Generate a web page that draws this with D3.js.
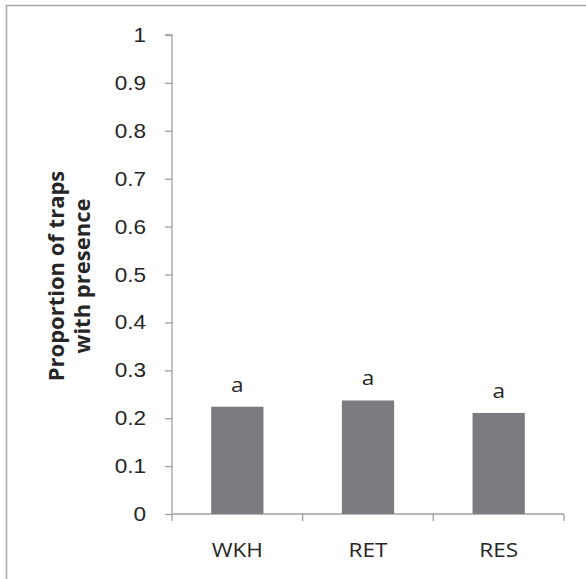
<!DOCTYPE html>
<html>
<head>
<meta charset="utf-8">
<script src="https://cdn.jsdelivr.net/npm/d3@7"></script>
<style>
    body { margin: 0; background: #fff; }
    svg { display: block; font-family: "Open Sans", sans-serif; }
</style>
</head>
<body>
<svg width="586" height="579"></svg>
<script>
    // data
    let sites = ["WKH", "RET", "RES"];
    let proportions = [0.224, 0.237, 0.211];
    let letters = ["a", "a", "a"];
    let yTicks = [0, 0.1, 0.2, 0.3, 0.4, 0.5, 0.6, 0.7, 0.8, 0.9, 1];

    let svg = d3.select("svg");
    let stretch = 1.1; // the source figure's text is a bit wider than the font
    let fs = 20.5;

    // outer frame (top and left edges only show in the source)
    svg.append("path")
        .attr("d", "M6.5,600 V5.5 H600")
        .attr("fill", "none")
        .attr("stroke", "#a6a6a6")
        .attr("stroke-width", 1.5);

    let x = d3.scaleBand()
        .domain(sites)
        .range([172, 564]);

    let y = d3.scaleLinear()
        .domain([0, 1])
        .range([514, 35]);

    // y axis
    let yAxis = svg.append("g")
        .attr("transform", "translate(172,0)")
        .call(d3.axisLeft(y).tickValues(yTicks).tickSize(7).tickPadding(19)
            .tickFormat(d => d3.format("")(+d.toFixed(1))));

    yAxis.selectAll("text")
        .attr("font-size", fs)
        .attr("fill", "#262626")
        .attr("x", -26 / stretch)
        .attr("transform", `scale(${stretch},1)`);

    // x axis: ticks between categories, like Excel
    let xAxis = svg.append("g")
        .attr("transform", "translate(0,514)");

    xAxis.append("line")
        .attr("x1", 172).attr("x2", 564)
        .attr("stroke", "#a0a0a0").attr("stroke-width", 1.3);

    let edges = sites.map(s => x(s)).concat([x.range()[1]]);
    xAxis.selectAll(".edge")
        .data(edges)
        .enter()
        .append("line")
        .attr("class", "edge")
        .attr("x1", d => d).attr("x2", d => d)
        .attr("y1", 0).attr("y2", 7)
        .attr("stroke", "#a0a0a0").attr("stroke-width", 1.3);

    xAxis.selectAll(".lbl")
        .data(sites)
        .enter()
        .append("text")
        .attr("class", "lbl")
        .attr("transform", d => `translate(${x(d) + x.bandwidth() / 2},43) scale(${stretch},1)`)
        .attr("text-anchor", "middle")
        .attr("font-size", fs)
        .attr("fill", "#262626")
        .text(d => d);

    yAxis.select(".domain")
        .attr("stroke", "#a0a0a0").attr("stroke-width", 1.3)
        .attr("d", "M-7,35 H0 V514");
    yAxis.selectAll(".tick line")
        .attr("stroke", "#a0a0a0").attr("stroke-width", 1.3);

    // bars
    let barWidth = x.bandwidth() * 0.4;

    svg.selectAll(".bar")
        .data(proportions)
        .enter()
        .append("rect")
        .attr("class", "bar")
        .attr("x", (d, i) => x(sites[i]) + (x.bandwidth() - barWidth) / 2)
        .attr("y", d => y(d))
        .attr("width", barWidth)
        .attr("height", d => y(0) - y(d))
        .attr("fill", "#7b7c80");

    // significance letters
    svg.selectAll(".letter")
        .data(proportions)
        .enter()
        .append("text")
        .attr("class", "letter")
        .attr("transform", (d, i) => `translate(${x(sites[i]) + x.bandwidth() / 2},${y(d) - 15}) scale(${stretch},1)`)
        .attr("text-anchor", "middle")
        .attr("font-size", fs)
        .attr("fill", "#262626")
        .text((d, i) => letters[i]);

    // y title
    let title = svg.append("text")
        .attr("transform", `translate(0,276) rotate(-90)`)
        .attr("text-anchor", "middle")
        .attr("font-size", 22)
        .attr("font-weight", "bold")
        .attr("fill", "#262626");

    title.append("tspan").attr("x", 0).attr("y", 64).text("Proportion of traps");
    title.append("tspan").attr("x", 0).attr("y", 90).text("with presence");
</script>
</body>
</html>
